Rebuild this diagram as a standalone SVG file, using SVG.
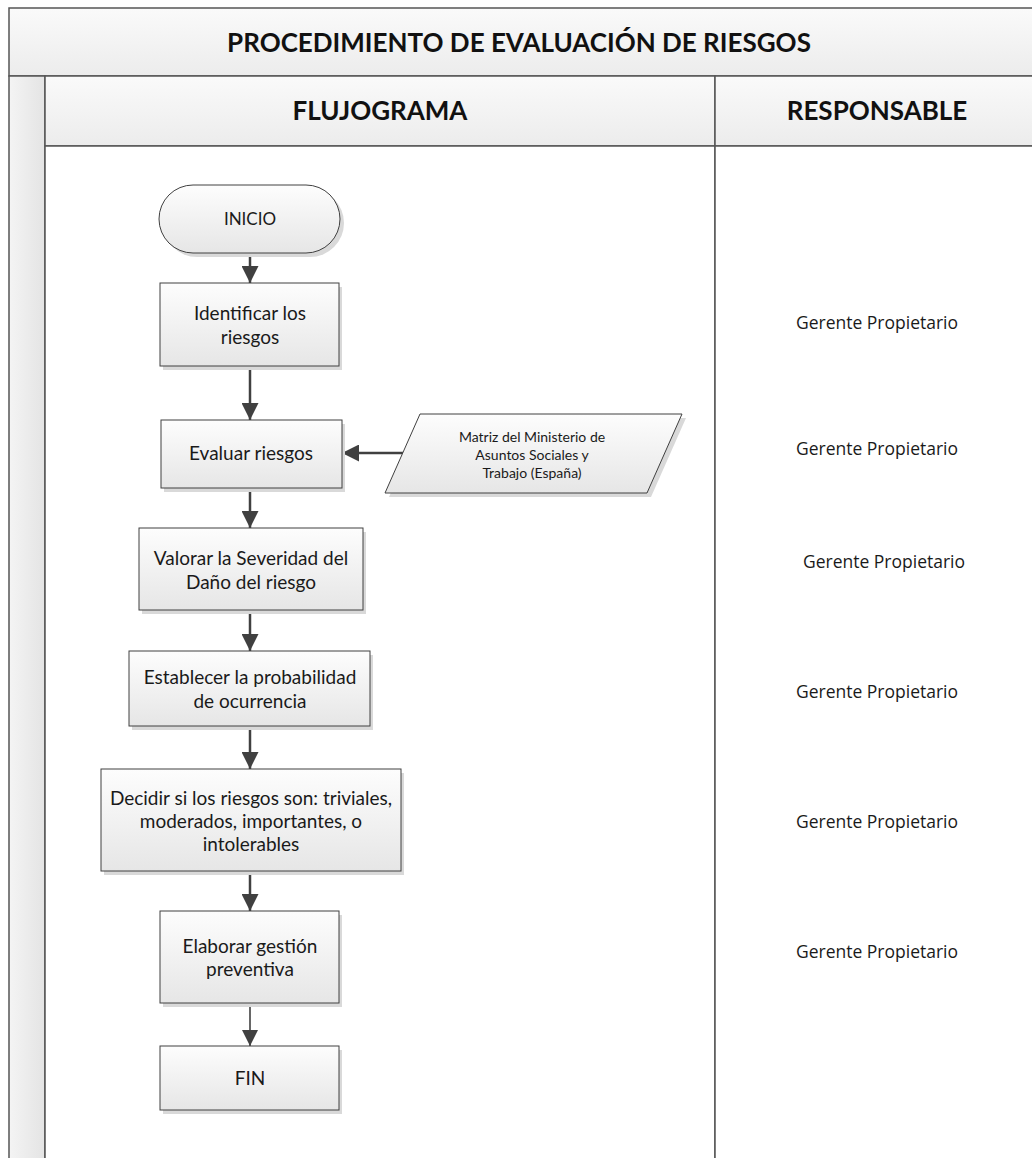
<svg xmlns="http://www.w3.org/2000/svg" width="1032" height="1158" viewBox="0 0 1032 1158">
<defs>
<linearGradient id="gBox" x1="0" y1="0" x2="0" y2="1">
<stop offset="0" stop-color="#fdfdfd"/>
<stop offset="1" stop-color="#e6e6e6"/>
</linearGradient>
<linearGradient id="gHead" x1="0" y1="0" x2="0" y2="1">
<stop offset="0" stop-color="#fafafa"/>
<stop offset="1" stop-color="#ececec"/>
</linearGradient>
<linearGradient id="gStrip" x1="0" y1="0" x2="1" y2="0">
<stop offset="0" stop-color="#f4f4f4"/>
<stop offset="1" stop-color="#e4e4e4"/>
</linearGradient>
<marker id="arr" markerUnits="userSpaceOnUse" markerWidth="18" markerHeight="17" refX="17" refY="8.5" orient="auto">
<path d="M0,0 L17,8.5 L0,17 Z" fill="#404040"/>
</marker>
<marker id="arrS" markerUnits="userSpaceOnUse" markerWidth="16" markerHeight="16" refX="16" refY="8" orient="auto">
<path d="M0,0 L16,8 L0,16 Z" fill="#404040"/>
</marker>
</defs>
<style>
.frame{stroke:#555555;stroke-width:1.5;}
.box{fill:url(#gBox);stroke:#404040;stroke-width:1;}
.shadow{fill:#d9d9d9;stroke:none;}
.t{font-family:Lato,"Liberation Sans",sans-serif;font-size:19px;fill:#1a1a1a;text-anchor:middle;}
.ts{font-family:Lato,"Liberation Sans",sans-serif;font-size:14px;fill:#1a1a1a;text-anchor:middle;}
.h{font-family:Lato,"Liberation Sans",sans-serif;font-weight:bold;font-size:26px;fill:#111;text-anchor:middle;}
.r{font-family:"Open Sans","Noto Sans",sans-serif;font-size:17.5px;fill:#1a1a1a;text-anchor:middle;}
.c{stroke:#404040;stroke-width:2.5;fill:none;}
</style>

<g id="table">
<rect x="9" y="8" width="1040" height="68" fill="url(#gHead)" class="frame"/>
<rect x="9" y="76" width="36" height="1100" fill="url(#gStrip)" class="frame"/>
<rect x="45" y="76" width="670" height="70" fill="url(#gHead)" class="frame"/>
<rect x="715" y="76" width="334" height="70" fill="url(#gHead)" class="frame"/>
<rect x="45" y="146" width="670" height="1030" fill="#ffffff" class="frame"/>
<rect x="715" y="146" width="334" height="1030" fill="#ffffff" class="frame"/>
<text class="h" x="519" y="52">PROCEDIMIENTO DE EVALUACIÓN DE RIESGOS</text>
<text class="h" x="380" y="120">FLUJOGRAMA</text>
<text class="h" x="877" y="120">RESPONSABLE</text>
</g>

<g id="connectors">
<line class="c" x1="250" y1="253" x2="250" y2="283" marker-end="url(#arr)"/>
<line class="c" x1="250" y1="366" x2="250" y2="420" marker-end="url(#arr)"/>
<line class="c" x1="403" y1="453" x2="342" y2="453" marker-end="url(#arr)"/>
<line class="c" x1="250" y1="488" x2="250" y2="528" marker-end="url(#arr)"/>
<line class="c" x1="250" y1="610" x2="250" y2="651" marker-end="url(#arr)"/>
<line class="c" x1="250" y1="726" x2="250" y2="769" marker-end="url(#arr)"/>
<line class="c" x1="250" y1="871" x2="250" y2="911" marker-end="url(#arr)"/>
<line class="c" x1="250" y1="1003" x2="250" y2="1046" style="stroke-width:1.6" marker-end="url(#arrS)"/>
</g>

<g id="inicio">
<rect class="shadow" x="163" y="189" width="181" height="68" rx="34"/>
<rect class="box" x="159" y="185" width="181" height="68" rx="34"/>
<text class="t" x="250" y="225" style="font-size:17px">INICIO</text>
</g>

<g id="identificar">
<rect class="shadow" x="163" y="287" width="179" height="83"/>
<rect class="box" x="160" y="283" width="179" height="83"/>
<text class="t" x="250" y="320">Identificar los</text>
<text class="t" x="250" y="344">riesgos</text>
</g>

<g id="evaluar">
<rect class="shadow" x="164" y="424" width="181" height="68"/>
<rect class="box" x="161" y="420" width="181" height="68"/>
<text class="t" x="251" y="460">Evaluar riesgos</text>
</g>

<g id="matriz">
<polygon class="shadow" points="424,418 686,418 651,497 389,497"/>
<polygon class="box" points="420,414 682,414 647,493 385,493"/>
<text class="ts" x="532" y="442">Matriz del Ministerio de</text>
<text class="ts" x="532" y="460">Asuntos Sociales y</text>
<text class="ts" x="532" y="478">Trabajo (España)</text>
</g>

<g id="valorar">
<rect class="shadow" x="142" y="532" width="224" height="82"/>
<rect class="box" x="139" y="528" width="224" height="82"/>
<text class="t" x="251" y="565">Valorar la Severidad del</text>
<text class="t" x="251" y="589">Daño del riesgo</text>
</g>

<g id="establecer">
<rect class="shadow" x="132" y="655" width="241" height="75"/>
<rect class="box" x="129" y="651" width="241" height="75"/>
<text class="t" x="250" y="684">Establecer la probabilidad</text>
<text class="t" x="250" y="708">de ocurrencia</text>
</g>

<g id="decidir">
<rect class="shadow" x="104" y="773" width="300" height="102"/>
<rect class="box" x="101" y="769" width="300" height="102"/>
<text class="t" x="251" y="805">Decidir si los riesgos son: triviales,</text>
<text class="t" x="251" y="828">moderados, importantes, o</text>
<text class="t" x="251" y="851">intolerables</text>
</g>

<g id="elaborar">
<rect class="shadow" x="163" y="915" width="179" height="92"/>
<rect class="box" x="160" y="911" width="179" height="92"/>
<text class="t" x="250" y="953">Elaborar gestión</text>
<text class="t" x="250" y="976">preventiva</text>
</g>

<g id="fin">
<rect class="shadow" x="163" y="1050" width="179" height="64"/>
<rect class="box" x="160" y="1046" width="179" height="64"/>
<text class="t" x="250" y="1085">FIN</text>
</g>

<g id="responsables">
<text class="r" x="877" y="329">Gerente Propietario</text>
<text class="r" x="877" y="455">Gerente Propietario</text>
<text class="r" x="884" y="568">Gerente Propietario</text>
<text class="r" x="877" y="698">Gerente Propietario</text>
<text class="r" x="877" y="828">Gerente Propietario</text>
<text class="r" x="877" y="958">Gerente Propietario</text>
</g>
</svg>
